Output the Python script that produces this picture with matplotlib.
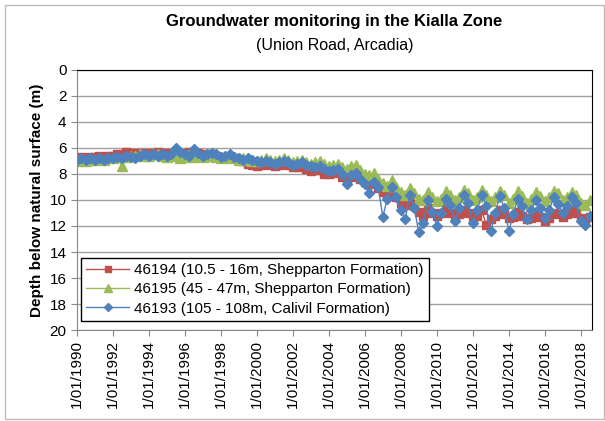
import matplotlib.pyplot as plt
import pandas as pd
from matplotlib.patches import Rectangle

plt.rcParams['font.family'] = ['Liberation Sans', 'DejaVu Sans']

# quarterly readings, Jan/Apr/Jul/Oct, 1990 to mid 2018
dates = pd.date_range('1990-01-01', '2018-07-01', freq='QS')

bore_46194 = [
    6.8, 6.7, 6.8, 6.7,  6.7, 6.6, 6.7, 6.6,  6.6, 6.5, 6.6, 6.3,
    6.4, 6.5, 6.4, 6.4,  6.5, 6.4, 6.3, 6.4,  6.5, 6.4, 6.3, 6.4,
    6.5, 6.3, 6.5, 6.4,  6.6, 6.5, 6.5, 6.6,  6.8, 6.7, 6.8, 6.8,
    6.9, 7.0, 7.2, 7.3,  7.4, 7.3, 7.2, 7.3,  7.4, 7.3, 7.2, 7.3,
    7.5, 7.5, 7.4, 7.6,  7.8, 7.7, 7.7, 8.0,  8.0, 7.9, 7.8, 8.2,
    8.3, 8.2, 8.1, 8.4,  8.6, 8.8, 8.6, 9.1,  9.4, 9.6, 9.3, 9.8,
    10.2, 10.4, 9.9, 10.5,  10.9, 11.2, 10.6, 11.0,  11.2, 11.0, 10.7, 11.0,
    11.3, 11.1, 10.8, 11.0,  11.3, 11.2, 10.8, 11.9,  11.5, 11.2, 10.8, 11.1,
    11.4, 11.3, 10.9, 11.2,  11.5, 11.4, 10.9, 11.3,  11.6, 11.4, 11.0, 11.1,
    11.3, 11.1, 10.8, 11.0,  11.4, 11.6, 11.3,
]
bore_46195 = [
    7.0, 6.9, 7.0, 6.9,  6.9, 6.8, 6.9, 6.8,  6.8, 6.7, 7.4, 6.7,
    6.6, 6.6, 6.5, 6.6,  6.6, 6.5, 6.5, 6.6,  6.7, 6.5, 6.6, 6.8,
    6.7, 6.5, 6.7, 6.6,  6.7, 6.6, 6.6, 6.7,  6.8, 6.7, 6.8, 6.7,
    6.9, 6.8, 6.9, 7.0,  7.0, 6.9, 6.8, 6.9,  7.0, 6.9, 6.8, 6.9,
    7.1, 7.0, 6.9, 7.1,  7.2, 7.1, 7.0, 7.2,  7.4, 7.3, 7.2, 7.5,
    7.6, 7.4, 7.3, 7.7,  8.0, 8.1, 7.9, 8.4,  8.7, 8.9, 8.5, 9.0,
    9.4, 9.6, 9.1, 9.5,  9.9, 10.0, 9.4, 9.8,  10.1, 9.9, 9.3, 9.6,
    10.0, 9.8, 9.2, 9.5,  10.0, 9.8, 9.2, 9.6,  10.1, 9.8, 9.3, 9.6,
    10.2, 9.9, 9.3, 9.7,  10.2, 9.9, 9.4, 9.7,  10.1, 9.8, 9.3, 9.5,
    10.0, 9.8, 9.4, 9.6,  10.2, 10.4, 10.0,
]
bore_46193 = [
    6.9, 6.8, 6.9, 6.8,  6.9, 6.8, 6.9, 6.8,  6.8, 6.7, 6.8, 6.6,
    6.7, 6.8, 6.6, 6.5,  6.6, 6.5, 6.6, 6.5,  6.6, 6.5, 6.0, 6.3,
    6.5, 6.6, 6.1, 6.4,  6.6, 6.5, 6.4, 6.5,  6.7, 6.6, 6.5, 6.7,
    6.8, 6.9, 6.8, 6.9,  7.0, 7.1, 7.0, 7.1,  7.2, 7.1, 7.0, 7.1,
    7.3, 7.2, 7.1, 7.3,  7.4, 7.5, 7.4, 7.6,  7.8, 7.7, 7.6, 8.0,
    8.8, 8.1, 7.9, 8.4,  8.8, 9.5, 8.6, 9.0,  11.3, 9.9, 9.0, 9.8,
    10.8, 11.5, 9.6, 10.6,  12.5, 11.8, 10.0, 10.9,  12.0, 11.0, 9.9, 10.4,
    11.6, 10.6, 9.6, 10.2,  11.8, 10.8, 9.6, 10.5,  12.4, 11.0, 9.7, 10.6,
    12.4, 11.1, 9.9, 10.5,  11.5, 10.8, 10.0, 10.6,  11.4, 10.8, 9.8, 10.3,
    11.0, 10.5, 9.8, 10.2,  11.6, 11.9, 11.2,
]
labels = ['46194 (10.5 - 16m, Shepparton Formation)',
          '46195 (45 - 47m, Shepparton Formation)',
          '46193 (105 - 108m, Calivil Formation)']
tick_years = list(range(1990, 2019, 2))

fig = plt.figure(figsize=(6.05, 4.21), dpi=100)
ax = fig.add_axes([0.127, 0.216, 0.851, 0.618])

ax.plot(dates, bore_46194, color='#C0504D', lw=1, marker='s', ms=6, label=labels[0])
ax.plot(dates, bore_46195, color='#9BBB59', lw=1, marker='^', ms=7, label=labels[1])
ax.plot(dates, bore_46193, color='#4F81BD', lw=1, marker='D', ms=5.5, label=labels[2])

ax.set_ylim(20, 0)
ax.set_yticks(range(0, 21, 2))
ax.set_xlim(pd.Timestamp('1990-01-01'), pd.Timestamp('2018-08-10'))
ax.set_xticks([pd.Timestamp(f'{y}-01-01') for y in tick_years])
ax.set_xticklabels([f'1/01/{y}' for y in tick_years], rotation=90)
ax.tick_params(labelsize=11, direction='out', color='#888888', length=4)
ax.grid(axis='y', color='#a0a0a0', lw=1)
ax.set_axisbelow(True)
for s in ['left', 'bottom']:
    ax.spines[s].set_color('#888888')
for s in ['top', 'right']:
    ax.spines[s].set_color('black')

ax.set_ylabel('Depth below natural surface (m)', fontsize=11, fontweight='bold')
fig.text(0.553, 0.948, 'Groundwater monitoring in the Kialla Zone',
         ha='center', va='center', fontsize=12, fontweight='bold')
fig.text(0.553, 0.893, '(Union Road, Arcadia)', ha='center', va='center', fontsize=11.5)

leg = ax.legend(loc='lower left', bbox_to_anchor=(0.008, 0.035), borderaxespad=0,
                fontsize=11, fancybox=False, edgecolor='black', framealpha=1,
                markerscale=0.75, handlelength=2.8, borderpad=0.35,
                labelspacing=0.35, handletextpad=0.3)
leg.get_frame().set_linewidth(1)

fig.patches.append(Rectangle((0.009, 0.005), 0.99, 0.983, transform=fig.transFigure,
                             fill=False, edgecolor='#bbbbbb', lw=1))

fig.savefig('out.png', dpi=100)
